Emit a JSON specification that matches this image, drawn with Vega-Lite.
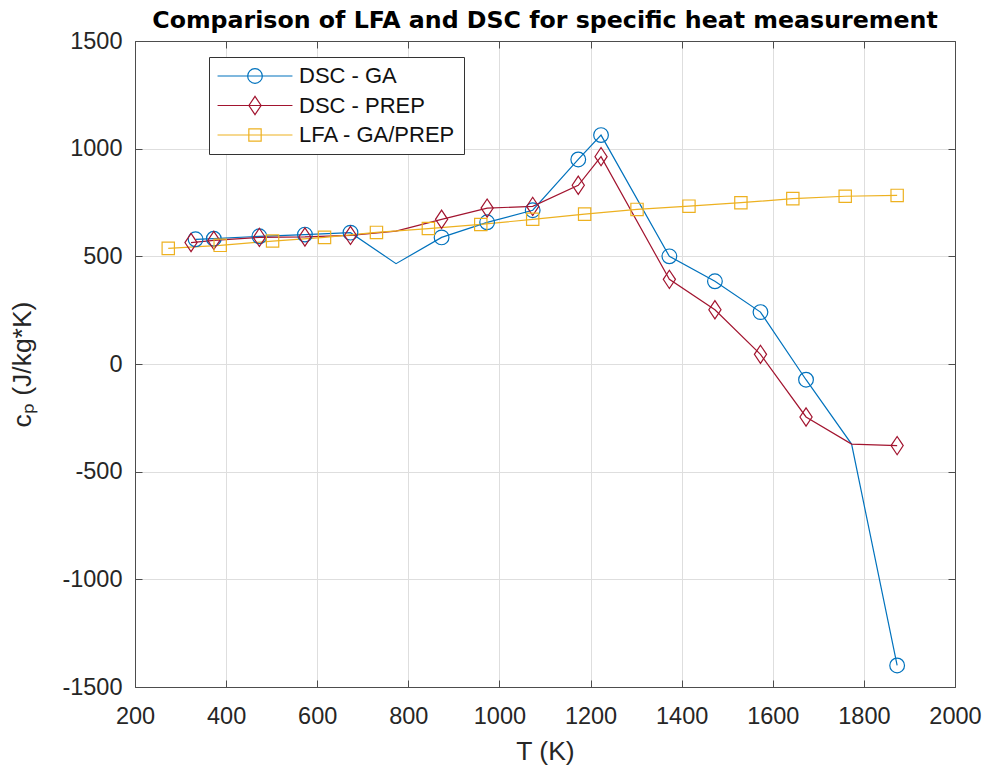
{
  "$schema": "https://vega.github.io/schema/vega-lite/v6.json",
  "autosize": "none",
  "width": 820,
  "height": 646,
  "padding": {"left": 135, "top": 41, "right": 30, "bottom": 82},
  "background": "white",
  "config": {"view": {"stroke": null}, "font": "Liberation Sans"},
  "title": {
    "text": "Comparison of LFA and DSC for specific heat measurement",
    "font": "DejaVu Sans",
    "fontSize": 23.7,
    "fontWeight": "bold",
    "color": "#000000",
    "anchor": "middle",
    "frame": "group",
    "offset": -4
  },
  "data": {
    "values": [
      {"series": "DSC - GA", "T": 333, "cp": 579, "marked": true},
      {"series": "DSC - GA", "T": 373, "cp": 582, "marked": true},
      {"series": "DSC - GA", "T": 473, "cp": 593, "marked": true},
      {"series": "DSC - GA", "T": 573, "cp": 601, "marked": true},
      {"series": "DSC - GA", "T": 673, "cp": 610, "marked": true},
      {"series": "DSC - GA", "T": 773, "cp": 466, "marked": false},
      {"series": "DSC - GA", "T": 873, "cp": 588, "marked": true},
      {"series": "DSC - GA", "T": 973, "cp": 658, "marked": true},
      {"series": "DSC - GA", "T": 1073, "cp": 714, "marked": true},
      {"series": "DSC - GA", "T": 1173, "cp": 950, "marked": true},
      {"series": "DSC - GA", "T": 1223, "cp": 1063, "marked": true},
      {"series": "DSC - GA", "T": 1373, "cp": 500, "marked": true},
      {"series": "DSC - GA", "T": 1473, "cp": 384, "marked": true},
      {"series": "DSC - GA", "T": 1573, "cp": 241, "marked": true},
      {"series": "DSC - GA", "T": 1673, "cp": -73, "marked": true},
      {"series": "DSC - GA", "T": 1773, "cp": -372, "marked": false},
      {"series": "DSC - GA", "T": 1873, "cp": -1400, "marked": true},
      {"series": "DSC - PREP", "T": 323, "cp": 564, "marked": true},
      {"series": "DSC - PREP", "T": 373, "cp": 574, "marked": true},
      {"series": "DSC - PREP", "T": 473, "cp": 588, "marked": true},
      {"series": "DSC - PREP", "T": 573, "cp": 590, "marked": true},
      {"series": "DSC - PREP", "T": 673, "cp": 597, "marked": true},
      {"series": "DSC - PREP", "T": 773, "cp": 617, "marked": false},
      {"series": "DSC - PREP", "T": 873, "cp": 672, "marked": true},
      {"series": "DSC - PREP", "T": 973, "cp": 724, "marked": true},
      {"series": "DSC - PREP", "T": 1073, "cp": 732, "marked": true},
      {"series": "DSC - PREP", "T": 1173, "cp": 830, "marked": true},
      {"series": "DSC - PREP", "T": 1223, "cp": 963, "marked": true},
      {"series": "DSC - PREP", "T": 1373, "cp": 393, "marked": true},
      {"series": "DSC - PREP", "T": 1473, "cp": 252, "marked": true},
      {"series": "DSC - PREP", "T": 1573, "cp": 45, "marked": true},
      {"series": "DSC - PREP", "T": 1673, "cp": -246, "marked": true},
      {"series": "DSC - PREP", "T": 1773, "cp": -372, "marked": false},
      {"series": "DSC - PREP", "T": 1873, "cp": -379, "marked": true},
      {"series": "LFA - GA/PREP", "T": 273, "cp": 537, "marked": true},
      {"series": "LFA - GA/PREP", "T": 387, "cp": 551, "marked": true},
      {"series": "LFA - GA/PREP", "T": 502, "cp": 571, "marked": true},
      {"series": "LFA - GA/PREP", "T": 616, "cp": 588, "marked": true},
      {"series": "LFA - GA/PREP", "T": 730, "cp": 611, "marked": true},
      {"series": "LFA - GA/PREP", "T": 844, "cp": 629, "marked": true},
      {"series": "LFA - GA/PREP", "T": 959, "cp": 648, "marked": true},
      {"series": "LFA - GA/PREP", "T": 1073, "cp": 672, "marked": true},
      {"series": "LFA - GA/PREP", "T": 1187, "cp": 696, "marked": true},
      {"series": "LFA - GA/PREP", "T": 1302, "cp": 718, "marked": true},
      {"series": "LFA - GA/PREP", "T": 1416, "cp": 733, "marked": true},
      {"series": "LFA - GA/PREP", "T": 1530, "cp": 749, "marked": true},
      {"series": "LFA - GA/PREP", "T": 1644, "cp": 768, "marked": true},
      {"series": "LFA - GA/PREP", "T": 1759, "cp": 779, "marked": true},
      {"series": "LFA - GA/PREP", "T": 1873, "cp": 783, "marked": true}
    ]
  },
  "layer": [
    {
      "mark": {"type": "line", "strokeWidth": 1.2},
      "encoding": {
        "x": {
          "field": "T", "type": "quantitative",
          "scale": {"domain": [200, 2000], "nice": false, "zero": false},
          "axis": {
            "orient": "bottom",
            "values": [200, 400, 600, 800, 1000, 1200, 1400, 1600, 1800, 2000],
            "labelExpr": "'' + datum.value",
            "grid": true, "gridColor": "#dedede", "gridWidth": 1,
            "domainColor": "#4d4d4d", "domainWidth": 1,
            "tickColor": "#4d4d4d", "tickSize": -7, "tickWidth": 1,
            "labelPadding": 24, "labelFont": "Liberation Sans", "labelFontSize": 23.5,
            "labelColor": "#262626", "labelFlush": false, "labelOverlap": false,
            "title": "T (K)", "titleFont": "Liberation Sans", "titleFontSize": 26.5,
            "titleFontWeight": "normal", "titleColor": "#262626", "titlePadding": 11
          }
        },
        "y": {
          "field": "cp", "type": "quantitative",
          "scale": {"domain": [-1500, 1500], "nice": false, "zero": false},
          "axis": {
            "orient": "left",
            "values": [-1500, -1000, -500, 0, 500, 1000, 1500],
            "labelExpr": "'' + datum.value",
            "grid": true, "gridColor": "#dedede", "gridWidth": 1,
            "domainColor": "#4d4d4d", "domainWidth": 1,
            "tickColor": "#4d4d4d", "tickSize": -7, "tickWidth": 1,
            "labelPadding": 20, "labelFont": "Liberation Sans", "labelFontSize": 23.5,
            "labelColor": "#262626", "labelFlush": false, "labelOverlap": false,
            "title": "cₚ  (J/kg*K)", "titleFont": "Liberation Sans", "titleFontSize": 26.5,
            "titleFontWeight": "normal", "titleColor": "#262626", "titlePadding": 25
          }
        },
        "stroke": {
          "field": "series", "type": "nominal",
          "scale": {"domain": ["LFA - GA/PREP", "DSC - PREP", "DSC - GA"], "range": ["#EDB120", "#A2142F", "#0072BD"]},
          "legend": null
        }
      }
    },
    {
      "transform": [{"filter": "datum.marked && datum.series === 'DSC - GA'"}],
      "mark": {"type": "point", "filled": false, "size": 196, "strokeWidth": 1.2, "opacity": 1, "color": "#0072BD",
               "shape": "M-1.05,0A1.05,1.05 0 1,0 1.05,0A1.05,1.05 0 1,0 -1.05,0"},
      "encoding": {
        "x": {
          "field": "T", "type": "quantitative",
          "axis": {
            "orient": "top",
            "values": [200, 400, 600, 800, 1000, 1200, 1400, 1600, 1800, 2000],
            "labels": false, "grid": false, "title": null,
            "domainColor": "#4d4d4d", "domainWidth": 1,
            "tickColor": "#4d4d4d", "tickSize": -7, "tickWidth": 1
          }
        },
        "y": {
          "field": "cp", "type": "quantitative",
          "axis": {
            "orient": "right",
            "values": [-1500, -1000, -500, 0, 500, 1000, 1500],
            "labels": false, "grid": false, "title": null,
            "domainColor": "#4d4d4d", "domainWidth": 1,
            "tickColor": "#4d4d4d", "tickSize": -7, "tickWidth": 1
          }
        }
      }
    },
    {
      "transform": [{"filter": "datum.marked && datum.series === 'DSC - PREP'"}],
      "mark": {"type": "point", "filled": false, "size": 196, "strokeWidth": 1.2, "opacity": 1, "color": "#A2142F",
               "shape": "M0,-1.3L0.87,0L0,1.3L-0.87,0Z"},
      "encoding": {
        "x": {"field": "T", "type": "quantitative", "axis": null},
        "y": {"field": "cp", "type": "quantitative", "axis": null}
      }
    },
    {
      "transform": [{"filter": "datum.marked && datum.series === 'LFA - GA/PREP'"}],
      "mark": {"type": "point", "filled": false, "size": 196, "strokeWidth": 1.2, "opacity": 1, "color": "#EDB120",
               "shape": "M-0.88,-0.88L0.88,-0.88L0.88,0.88L-0.88,0.88Z"},
      "encoding": {
        "x": {"field": "T", "type": "quantitative", "axis": null},
        "y": {"field": "cp", "type": "quantitative", "axis": null}
      }
    },
    {
      "transform": [{"filter": "false"}],
      "mark": {"type": "point", "filled": false, "size": 196, "strokeWidth": 1.2, "opacity": 1},
      "encoding": {
        "x": {"field": "T", "type": "quantitative", "axis": null},
        "y": {"field": "cp", "type": "quantitative", "axis": null},
        "color": {
          "field": "series", "type": "nominal",
          "scale": {"domain": ["DSC - GA", "DSC - PREP", "LFA - GA/PREP"], "range": ["#0072BD", "#A2142F", "#EDB120"]},
          "legend": {
            "title": null, "orient": "none", "legendX": 74, "legendY": 16,
            "padding": 8, "strokeColor": "#333333", "fillColor": "#ffffff",
            "labelFont": "Liberation Sans", "labelFontSize": 22, "labelColor": "#111111",
            "symbolSize": 196, "symbolStrokeWidth": 1.2, "symbolOffset": 27, "labelOffset": 33,
            "rowPadding": 6.5
          }
        },
        "shape": {
          "field": "series", "type": "nominal",
          "scale": {
            "domain": ["DSC - GA", "DSC - PREP", "LFA - GA/PREP"],
            "range": [
              "M-5.35,0L5.35,0M-1.05,0A1.05,1.05 0 1,0 1.05,0A1.05,1.05 0 1,0 -1.05,0",
              "M-5.35,0L5.35,0M0,-1.3L0.87,0L0,1.3L-0.87,0Z",
              "M-5.35,0L5.35,0M-0.88,-0.88L0.88,-0.88L0.88,0.88L-0.88,0.88Z"
            ]
          },
          "legend": {
            "title": null, "orient": "none", "legendX": 74, "legendY": 16,
            "padding": 8, "strokeColor": "#333333", "fillColor": "#ffffff",
            "labelFont": "Liberation Sans", "labelFontSize": 22, "labelColor": "#111111",
            "symbolSize": 196, "symbolStrokeWidth": 1.2, "symbolOffset": 27, "labelOffset": 33,
            "rowPadding": 6.5
          }
        }
      }
    }
  ]
}
